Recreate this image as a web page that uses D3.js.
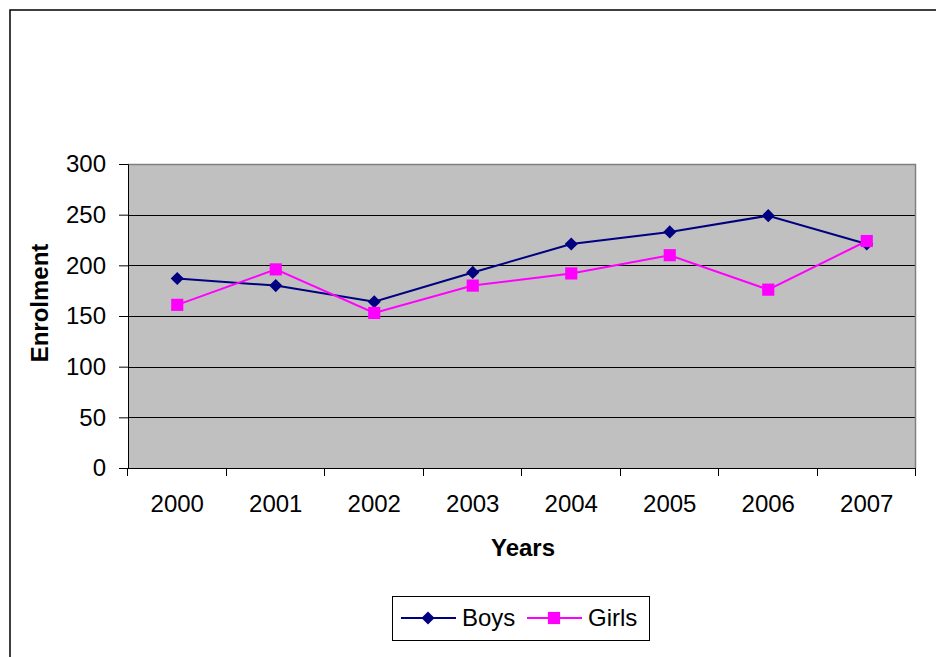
<!DOCTYPE html>
<html>
<head>
<meta charset="utf-8">
<script src="https://cdn.jsdelivr.net/npm/d3@7"></script>
<style>
  body { margin: 0; background: #fff; }
  text { font-family: Arial, "Liberation Sans", sans-serif; fill: #000; }
</style>
</head>
<body>
<div id="chart"></div>
<script>
const years = ["2000", "2001", "2002", "2003", "2004", "2005", "2006", "2007"];
const boys = [187, 180, 164, 193, 221, 233, 249, 221];
const girls = [161, 196, 153, 180, 192, 210, 176, 224];
const yTicks = [0, 50, 100, 150, 200, 250, 300];

const W = 936, H = 657;
const plot = {left: 128, top: 164, right: 916, bottom: 468};
const fs = "24px";

const svg = d3.select("#chart").append("svg").attr("width", W).attr("height", H);

// chart frame
svg.append("rect").attr("x", 10).attr("y", 10).attr("width", 940).attr("height", 660)
  .attr("fill", "#fff").attr("stroke", "#000").attr("stroke-width", 1.5);

const x = d3.scaleBand().domain(years).range([plot.left, plot.right]);
const y = d3.scaleLinear().domain([0, 300]).range([plot.bottom, plot.top]);

svg.append("rect").attr("x", plot.left).attr("y", plot.top)
  .attr("width", plot.right - plot.left).attr("height", plot.bottom - plot.top)
  .attr("fill", "#c0c0c0");

// grid
svg.append("g").selectAll("line").data(yTicks.filter(d => d > 0 && d < 300)).join("line")
  .attr("x1", plot.left).attr("x2", plot.right)
  .attr("y1", d => Math.round(y(d)) + 0.5).attr("y2", d => Math.round(y(d)) + 0.5)
  .attr("stroke", "#000").attr("stroke-width", 1);

// plot border top/right
svg.append("path")
  .attr("d", `M${plot.left},${plot.top + 0.5}H${plot.right - 0.5}V${plot.bottom}`)
  .attr("fill", "none").attr("stroke", "#808080").attr("stroke-width", 1.5);

// y axis
const yAxis = svg.append("g").attr("transform", `translate(${plot.left},0)`)
  .call(d3.axisLeft(y).tickValues(yTicks).tickSize(9).tickPadding(13));
yAxis.select(".domain").attr("stroke", "#000");
yAxis.selectAll("text").style("font-size", fs);

// x axis with ticks at category boundaries
const xg = svg.append("g").attr("transform", `translate(0,${plot.bottom})`);
xg.append("line").attr("x1", plot.left).attr("x2", plot.right).attr("y1", 0.5).attr("y2", 0.5)
  .attr("stroke", "#000");
const bounds = years.map(d => x(d)).concat([plot.right]);
xg.selectAll("line.tk").data(bounds).join("line").attr("class", "tk")
  .attr("x1", d => Math.round(d) - 0.5).attr("x2", d => Math.round(d) - 0.5)
  .attr("y1", 0).attr("y2", 8).attr("stroke", "#000");
xg.selectAll("text").data(years).join("text")
  .attr("x", d => x(d) + x.bandwidth() / 2).attr("y", 44)
  .attr("text-anchor", "middle").style("font-size", fs).text(d => d);

// axis titles
svg.append("text").attr("x", (plot.left + plot.right) / 2 + 1).attr("y", 556)
  .attr("text-anchor", "middle").style("font-size", fs).style("font-weight", "bold").text("Years");
svg.append("text").attr("transform", `translate(48,303) rotate(-90)`)
  .attr("text-anchor", "middle").style("font-size", fs).style("font-weight", "bold").text("Enrolment");

const cx = d => x(d) + x.bandwidth() / 2;
const line = d3.line().x((d, i) => cx(years[i])).y(d => y(d));

const series = [
  {name: "Boys", values: boys, color: "#000080", rot: 45, size: 86},
  {name: "Girls", values: girls, color: "#ff00ff", rot: 0, size: 148}
];
const marker = s => d3.symbol().type(d3.symbolSquare).size(s.size)();

series.forEach(s => {
  svg.append("path").datum(s.values).attr("d", line)
    .attr("fill", "none").attr("stroke", s.color).attr("stroke-width", 2);
});
series.forEach(s => {
  svg.append("g").selectAll("path").data(s.values).join("path")
    .attr("transform", (d, i) => `translate(${cx(years[i])},${y(d)}) rotate(${s.rot})`)
    .attr("d", marker(s)).attr("fill", s.color);
});

// legend
const lg = svg.append("g");
lg.append("rect").attr("x", 392.5).attr("y", 596.5).attr("width", 257).attr("height", 44)
  .attr("fill", "#fff").attr("stroke", "#000").attr("stroke-width", 1);
const legendX = [401, 527];
series.forEach((s, i) => {
  const g = lg.append("g").attr("transform", `translate(${legendX[i]},618)`);
  g.append("line").attr("x1", 0).attr("x2", 55).attr("stroke", s.color).attr("stroke-width", 2);
  g.append("path").attr("transform", `translate(27,0) rotate(${s.rot})`)
    .attr("d", marker(s)).attr("fill", s.color);
  g.append("text").attr("x", 61).attr("y", 8).style("font-size", fs).text(s.name);
});
</script>
</body>
</html>
